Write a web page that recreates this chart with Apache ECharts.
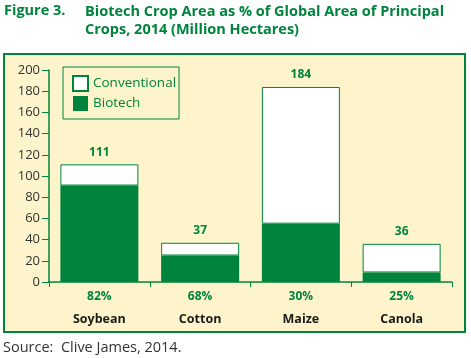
<!DOCTYPE html>
<html><head><meta charset="utf-8">
<script src="https://cdn.jsdelivr.net/npm/echarts@6/dist/echarts.min.js"></script>
<style>html,body{margin:0;padding:0;background:#fff}#c{width:471px;height:358px}</style>
</head><body><div id="c"></div>
<script>
const categories = ['Soybean', 'Cotton', 'Maize', 'Canola'];
const totals = [111, 37, 184, 36];
const biotech = [91, 25, 55, 9];
const conventional = [20, 12, 129, 27];
const percents = ['82%', '68%', '30%', '25%'];
const yTicks = [0, 20, 40, 60, 80, 100, 120, 140, 160, 180, 200];

const GREEN = '#00843d';
const CREAM = '#fdf4cb';
const FONT = '"Open Sans", sans-serif';

const chart = echarts.init(document.getElementById('c'));
chart.setOption({
  animation: false,
  textStyle: { fontFamily: FONT },
  graphic: [
    { type: 'rect', z: -10, shape: { x: 4, y: 54, width: 461, height: 278 },
      style: { fill: CREAM, stroke: GREEN, lineWidth: 2 } },
    { type: 'text', left: 4, top: 3, style: { text: 'Figure 3.', fill: GREEN, font: 'bold 14.5px ' + FONT } },
    { type: 'text', left: 85, top: 3, style: { text: 'Biotech Crop Area as % of Global Area of Principal\nCrops, 2014 (Million Hectares)', fill: GREEN, font: 'bold 14.5px ' + FONT, lineHeight: 18 } },
    { type: 'text', left: 3, top: 340, style: { text: 'Source:  Clive James, 2014.', fill: '#333', font: '14.5px ' + FONT } }
  ],
  legend: {
    orient: 'vertical', left: 63, top: 67,
    data: ['Conventional', 'Biotech'],
    itemWidth: 15, itemHeight: 15, itemGap: 4, padding: [8, 3, 8, 9],
    borderColor: GREEN, borderWidth: 1, icon: 'rect',
    textStyle: { color: GREEN, fontSize: 13.5, fontFamily: FONT }
  },
  grid: { left: 49, right: 19, top: 70, bottom: 76, containLabel: false },
  xAxis: {
    type: 'category', data: categories,
    axisLine: { lineStyle: { color: GREEN, width: 1.5 } },
    axisTick: { show: true, alignWithLabel: false, length: 5, lineStyle: { color: GREEN } },
    axisLabel: {
      margin: 4,
      formatter: function (v, i) { return '{p|' + percents[i] + '}\n{n|' + v + '}'; },
      rich: {
        p: { color: GREEN, fontWeight: 'bold', fontSize: 12, lineHeight: 22, fontFamily: FONT },
        n: { color: '#1a1a1a', fontWeight: 'bold', fontSize: 12.5, lineHeight: 22, fontFamily: FONT }
      }
    }
  },
  yAxis: {
    type: 'value', min: 0, max: 200, interval: 20,
    splitLine: { show: false },
    axisLine: { show: true, lineStyle: { color: GREEN, width: 1.5 } },
    axisTick: { show: true, length: 7, lineStyle: { color: GREEN } },
    axisLabel: { color: '#333', fontSize: 13, margin: 9, fontFamily: FONT,
      formatter: function (v) { return yTicks.indexOf(v) >= 0 ? String(v) : ''; } }
  },
  series: [
    { name: 'Biotech', type: 'bar', stack: 'a', data: biotech, barWidth: 78,
      itemStyle: { color: GREEN } },
    { name: 'Conventional', type: 'bar', stack: 'a', data: conventional, barWidth: 78,
      itemStyle: { color: '#ffffff', borderColor: GREEN, borderWidth: 1 },
      label: { show: true, position: 'top', distance: 6, color: GREEN, fontWeight: 'bold', fontSize: 12, fontFamily: FONT,
        formatter: function (p) { return String(totals[p.dataIndex]); } } }
  ]
});
</script></body></html>
